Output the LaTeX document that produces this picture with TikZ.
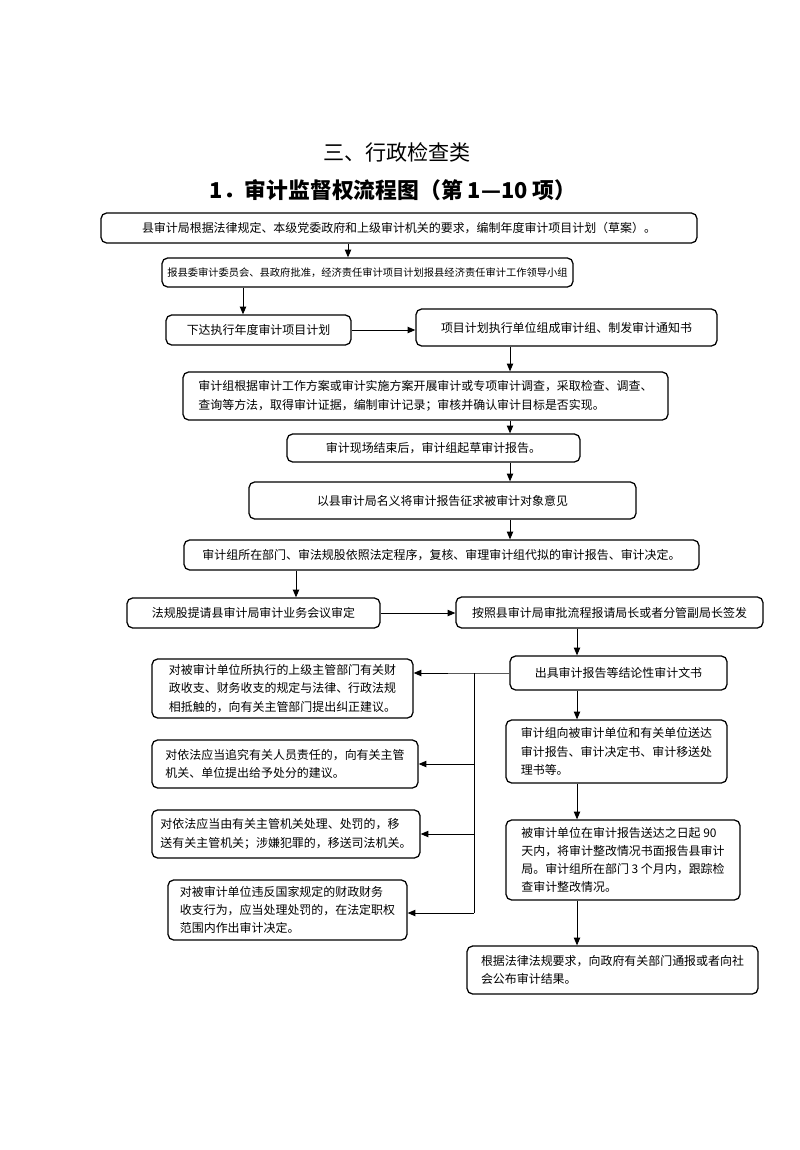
\documentclass[tikz,border=0pt]{standalone}
\usepackage{fontspec}
\setmainfont{Noto Sans CJK SC}
\usepackage{tikz}
\usetikzlibrary{arrows.meta}
\tikzset{
  flowBox/.style={draw=black, line width=0.9pt, rounded corners=4pt, fill=white, inner sep=3pt, align=center, font=\fontsize{8.5}{13}\selectfont},
  leftBox/.style={flowBox, align=left},
  boxSize/.style 2 args={minimum width=#1*0.025cm, minimum height=#2*0.025cm},
  flowArrow/.style={-{Triangle[length=5.5pt,width=4.5pt]}, line width=0.7pt},
  flowLine/.style={line width=0.7pt},
  titleText/.style={font=\fontsize{15}{18}\selectfont}
}

\begin{document}
\begin{tikzpicture}[x=0.025cm,y=-0.025cm]
  \useasboundingbox[fill=white] (0,0) rectangle (800,1150);
  % titles
  \node[titleText] (t1) at (397,152) {三、行政检查类};
  \node[titleText, font=\fontsize{15.5}{19}\selectfont\bfseries] (t2) at (393,190) {1．审计监督权流程图（第 1—10 项）};
  % main column
  \node[flowBox, boxSize={596}{30}] (b1) at (399,228) {县审计局根据法律规定、本级党委政府和上级审计机关的要求，编制年度审计项目计划（草案）。};
  \node[flowBox, boxSize={411}{29}, font=\fontsize{7.3}{11}\selectfont] (b2) at (367.5,272.5) {报县委审计委员会、县政府批准，经济责任审计项目计划报县经济责任审计工作领导小组};
  \node[flowBox, boxSize={185}{30}] (b3) at (258.5,330) {下达执行年度审计项目计划};
  \node[flowBox, boxSize={301}{37}] (b4) at (566.5,327.5) {项目计划执行单位组成审计组、制发审计通知书};
  \node[leftBox, boxSize={485}{48}] (b5) at (425.5,396) {审计组根据审计工作方案或审计实施方案开展审计或专项审计调查，采取检查、调查、\\查询等方法，取得审计证据，编制审计记录；审核并确认审计目标是否实现。};
  \node[flowBox, boxSize={293}{28}] (b6) at (433.5,448) {审计现场结束后，审计组起草审计报告。};
  \node[flowBox, boxSize={387}{37}] (b7) at (442.5,500.5) {以县审计局名义将审计报告征求被审计对象意见};
  \node[flowBox, boxSize={515}{30}] (b8) at (441.5,555) {审计组所在部门、审法规股依照法定程序，复核、审理审计组代拟的审计报告、审计决定。};
  \node[flowBox, boxSize={253}{30}] (b9) at (253.5,613) {法规股提请县审计局审计业务会议审定};
  \node[flowBox, boxSize={307}{31}] (b10) at (609.5,612.5) {按照县审计局审批流程报请局长或者分管副局长签发};
  \node[flowBox, boxSize={217}{34}] (b11) at (618.5,673) {出具审计报告等结论性审计文书};
  \node[leftBox, boxSize={221}{63}] (b12) at (616.5,751.5) {审计组向被审计单位和有关单位送达\\审计报告、审计决定书、审计移送处\\理书等。};
  \node[leftBox, boxSize={234}{80}] (b13) at (623,860) {被审计单位在审计报告送达之日起 90\\天内，将审计整改情况书面报告县审计\\局。审计组所在部门 3 个月内，跟踪检\\查审计整改情况。};
  \node[leftBox, boxSize={291}{48}] (b14) at (612.5,970) {根据法律法规要求，向政府有关部门通报或者向社\\会公布审计结果。};
  % left column
  \node[leftBox, boxSize={261}{59}] (l1) at (282.5,688.5) {对被审计单位所执行的上级主管部门有关财\\政收支、财务收支的规定与法律、行政法规\\相抵触的，向有关主管部门提出纠正建议。};
  \node[leftBox, boxSize={266}{48}] (l2) at (285,764) {对依法应当追究有关人员责任的，向有关主管\\机关、单位提出给予处分的建议。};
  \node[leftBox, boxSize={268}{48}] (l3) at (286,834) {对依法应当由有关主管机关处理、处罚的，移\\送有关主管机关；涉嫌犯罪的，移送司法机关。};
  \node[leftBox, boxSize={239}{60}] (l4) at (287.5,910) {对被审计单位违反国家规定的财政财务\\收支行为，应当处理处罚的，在法定职权\\范围内作出审计决定。};
  \coordinate (jn) at (474,673);
  \coordinate (jnb) at (474,913);
  % connectors
  \draw[flowArrow] (348,0 |- b1.south) -- (348,0 |- b2.north);
  \draw[flowArrow] (243,0 |- b2.south) -- (243,0 |- b3.north);
  \draw[flowArrow] (b3.east) -- (b3.east -| b4.west);
  \foreach \a/\b in {b4/b5,b5/b6,b6/b7,b7/b8} {
    \draw[flowArrow] (510,0 |- \a.south) -- (510,0 |- \b.north);
  }
  \draw[flowArrow] (296,0 |- b8.south) -- (296,0 |- b9.north);
  \draw[flowArrow] (b9.east) -- (b9.east -| b10.west);
  \foreach \a/\b in {b10/b11,b11/b12,b12/b13,b13/b14} {
    \draw[flowArrow] (577,0 |- \a.south) -- (577,0 |- \b.north);
  }
  \draw[flowArrow] (b11.west) -- (jn) -- (jn -| l1.east);
  \draw[flowLine] (jn) -- (jnb);
  \foreach \n in {l2,l3} {
    \draw[flowArrow] (jn |- \n.east) -- (\n.east);
  }
  \draw[flowArrow] (jnb) -- (jnb -| l4.east);
\end{tikzpicture}
\end{document}
